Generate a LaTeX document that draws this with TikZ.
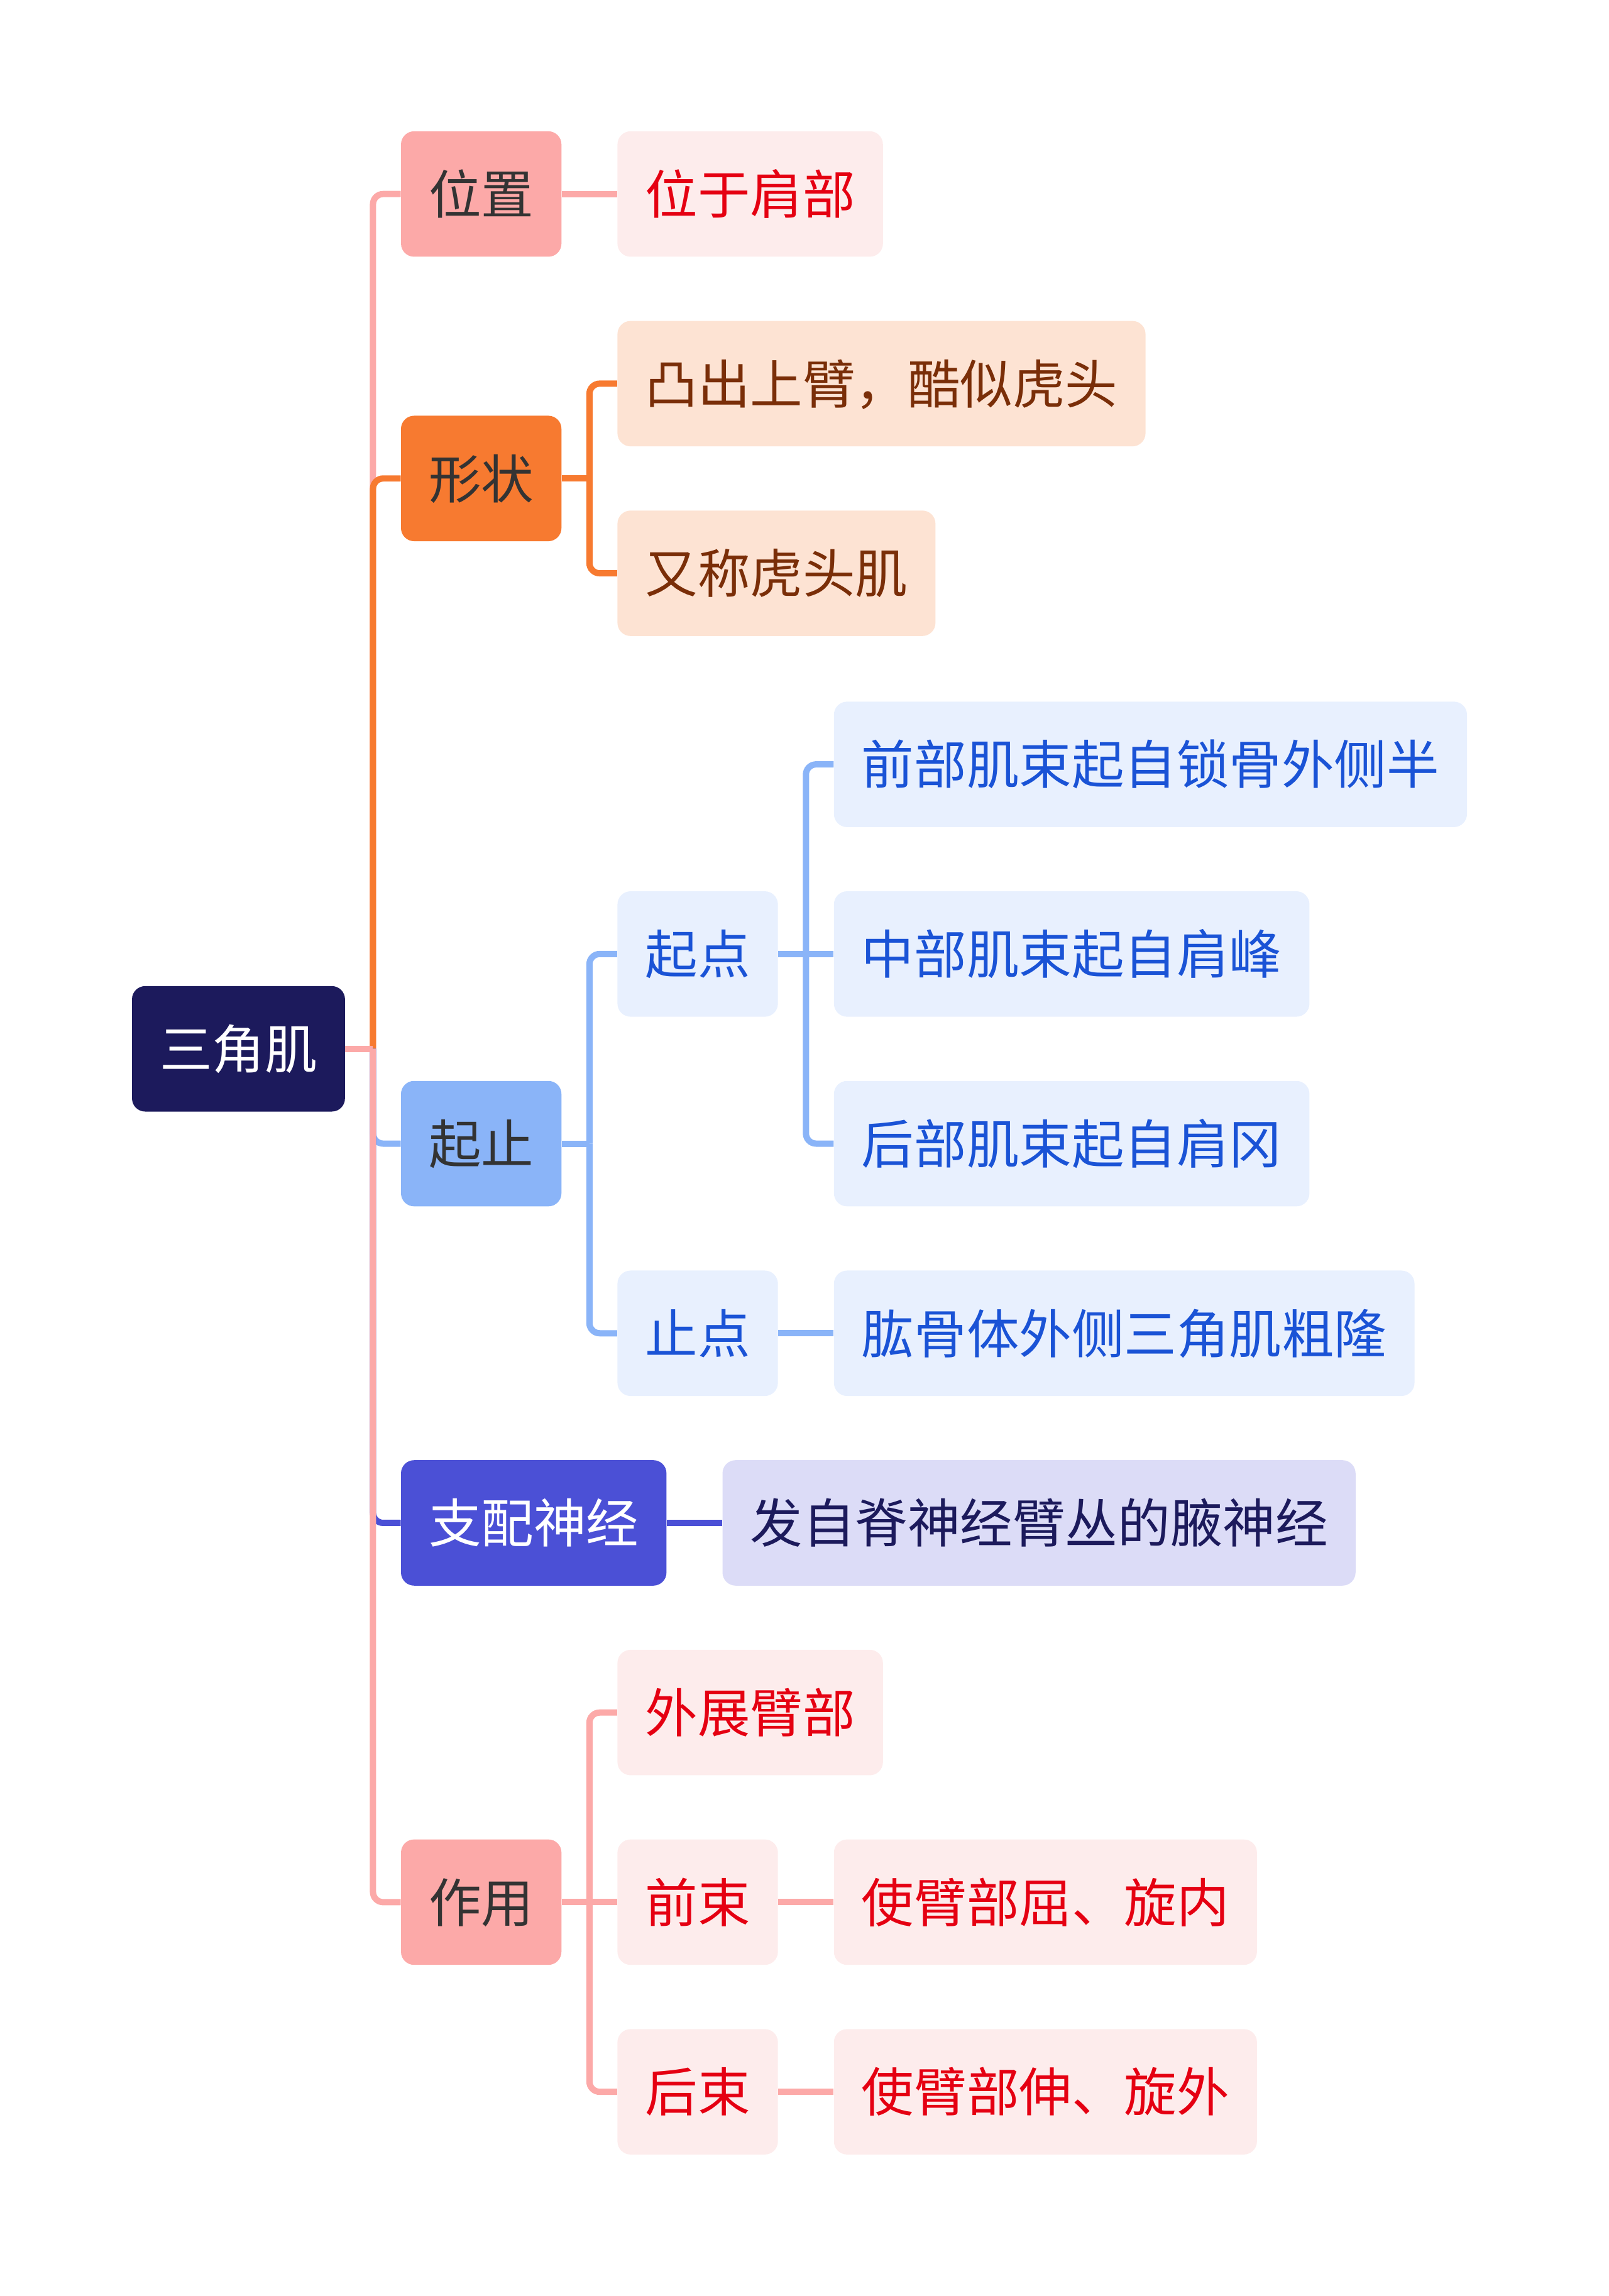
\documentclass[tikz,border=0pt]{standalone}
\usepackage[dvipsnames]{xcolor}
\usepackage{fontspec}
\usepackage{tikz}
\usetikzlibrary{positioning}
\newfontfamily\cjk{Noto Sans CJK SC}
\definecolor{navy}{HTML}{1C1A5C}
\definecolor{rosa}{HTML}{FCA9A8}
\definecolor{rosalight}{HTML}{FDECEC}
\definecolor{redtext}{HTML}{E50012}
\definecolor{orange}{HTML}{F77A30}
\definecolor{peach}{HTML}{FDE3D3}
\definecolor{browntext}{HTML}{7A2E08}
\definecolor{sky}{HTML}{8AB4F8}
\definecolor{skylight}{HTML}{E8F0FE}
\definecolor{bluetext}{HTML}{1A53D6}
\definecolor{indigo}{HTML}{4B50D6}
\definecolor{lilac}{HTML}{DCDCF7}
\definecolor{darkgray}{HTML}{333333}

\begin{document}
\begin{tikzpicture}[x=1pt, y=1pt]
\tikzstyle{box}=[shape=rectangle, rounded corners=9pt, minimum height=86pt, inner xsep=19pt, inner ysep=0pt, text height=31.7pt, text depth=4.3pt, font=\cjk\fontsize{36}{40}\selectfont]
\tikzstyle{root}=[box, fill=navy, text=white]
\tikzstyle{pinktopic}=[box, fill=rosa, text=darkgray]
\tikzstyle{orangetopic}=[box, fill=orange, text=darkgray]
\tikzstyle{bluetopic}=[box, fill=sky, text=darkgray]
\tikzstyle{indigotopic}=[box, fill=indigo, text=white]
\tikzstyle{pinkleaf}=[box, fill=rosalight, text=redtext]
\tikzstyle{orangeleaf}=[box, fill=peach, text=browntext]
\tikzstyle{blueleaf}=[box, fill=skylight, text=bluetext]
\tikzstyle{indigoleaf}=[box, fill=lilac, text=navy]
\tikzstyle{link}=[line width=4.3pt, rounded corners=7pt]

\useasboundingbox (0,0) rectangle (1103,-1574);

\node[root] (0) at (163.5,-719) {三角肌};
\node[pinktopic] (1) [right=38pt of 0, yshift=586pt] {位置};
\node[orangetopic] (2) [right=38pt of 0, yshift=391pt] {形状};
\node[bluetopic] (3) [right=38pt of 0, yshift=-65pt] {起止};
\node[indigotopic] (4) [right=38pt of 0, yshift=-325pt] {支配神经};
\node[pinktopic] (5) [right=38pt of 0, yshift=-585pt] {作用};

\node[pinkleaf] (6) [right=38pt of 1] {位于肩部};
\node[orangeleaf] (7) [right=38pt of 2, yshift=65pt] {凸出上臂，酷似虎头};
\node[orangeleaf] (8) [right=38pt of 2, yshift=-65pt] {又称虎头肌};
\node[blueleaf] (9) [right=38pt of 3, yshift=130pt] {起点};
\node[blueleaf] (10) [right=38pt of 3, yshift=-130pt] {止点};
\node[indigoleaf] (11) [right=38pt of 4] {发自脊神经臂丛的腋神经};
\node[pinkleaf] (12) [right=38pt of 5, yshift=130pt] {外展臂部};
\node[pinkleaf] (13) [right=38pt of 5] {前束};
\node[pinkleaf] (14) [right=38pt of 5, yshift=-130pt] {后束};

\node[blueleaf] (15) [right=38pt of 9, yshift=130pt] {前部肌束起自锁骨外侧半};
\node[blueleaf] (16) [right=38pt of 9] {中部肌束起自肩峰};
\node[blueleaf] (17) [right=38pt of 9, yshift=-130pt] {后部肌束起自肩冈};
\node[blueleaf] (18) [right=38pt of 10] {肱骨体外侧三角肌粗隆};
\node[pinkleaf] (19) [right=38pt of 13] {使臂部屈、旋内};
\node[pinkleaf] (20) [right=38pt of 14] {使臂部伸、旋外};

% first level
\coordinate (a) at ([xshift=19pt]0.east);
\draw[link, rosa] (a) |- (1.west);
\draw[link, orange] (a) |- (2.west);
\draw[link, sky] (a) |- (3.west);
\draw[link, indigo] (a) |- (4.west);
\draw[link, rosa] (a) |- (5.west);
\draw[link, rosa] (0.east) to (a);

% second level
\draw[link, rosa] (1.east) to (6.west);
\coordinate (b) at ([xshift=19pt]2.east);
\draw[link, orange] (2.east) to (b);
\draw[link, orange] (b) |- (7.west);
\draw[link, orange] (b) |- (8.west);
\coordinate (c) at ([xshift=19pt]3.east);
\draw[link, sky] (3.east) to (c);
\draw[link, sky] (c) |- (9.west);
\draw[link, sky] (c) |- (10.west);
\draw[link, indigo] (4.east) to (11.west);
\coordinate (d) at ([xshift=19pt]5.east);
\draw[link, rosa] (d) |- (12.west);
\draw[link, rosa] (d) |- (14.west);
\draw[link, rosa] (5.east) to (13.west);

% third level
\coordinate (e) at ([xshift=19pt]9.east);
\draw[link, sky] (e) |- (15.west);
\draw[link, sky] (e) |- (17.west);
\draw[link, sky] (9.east) to (16.west);
\draw[link, sky] (10.east) to (18.west);
\draw[link, rosa] (13.east) to (19.west);
\draw[link, rosa] (14.east) to (20.west);

\end{tikzpicture}
\end{document}
